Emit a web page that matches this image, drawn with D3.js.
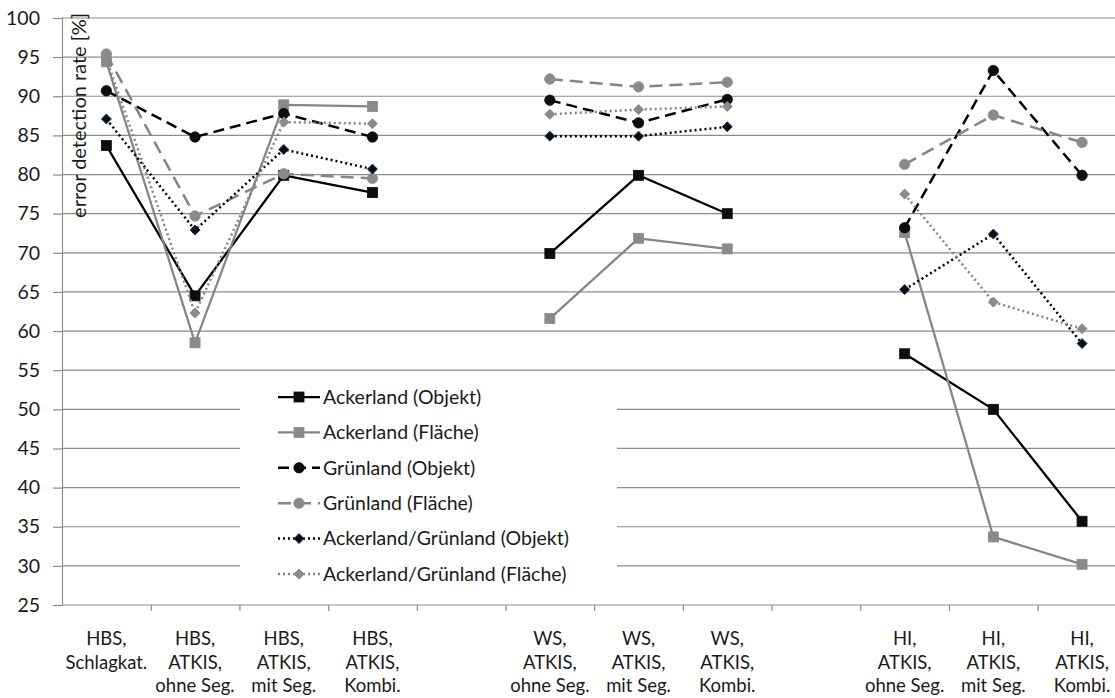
<!DOCTYPE html>
<html>
<head>
<meta charset="utf-8">
<script src="https://cdn.jsdelivr.net/npm/d3@7"></script>
<style>
  html, body { margin: 0; padding: 0; background: #fff; }
  svg { display: block; font-family: Lato, "Open Sans", sans-serif; }
</style>
</head>
<body>
<svg id="chart" width="1115" height="698"></svg>
<script>
// Category labels (one entry per slot; empty slots separate the groups)
const categories = [
  ["HBS,", "Schlagkat."],
  ["HBS,", "ATKIS,", "ohne Seg."],
  ["HBS,", "ATKIS,", "mit Seg."],
  ["HBS,", "ATKIS,", "Kombi."],
  [],
  ["WS,", "ATKIS,", "ohne Seg."],
  ["WS,", "ATKIS,", "mit Seg."],
  ["WS,", "ATKIS,", "Kombi."],
  [],
  ["HI,", "ATKIS,", "ohne Seg."],
  ["HI,", "ATKIS,", "mit Seg."],
  ["HI,", "ATKIS,", "Kombi."]
];

// Error detection rates in percent
const ackerObjekt  = [83.7, 64.5, 79.9, 77.7, null, 69.9, 79.9, 75.0, null, 57.1, 50.0, 35.7];
const ackerFlaeche = [94.4, 58.5, 88.9, 88.7, null, 61.6, 71.85, 70.5, null, 72.6, 33.7, 30.2];
const gruenObjekt  = [90.7, 84.8, 87.8, 84.8, null, 89.5, 86.6, 89.6, null, 73.2, 93.3, 79.9];
const gruenFlaeche = [95.4, 74.7, 80.1, 79.5, null, 92.2, 91.2, 91.8, null, 81.3, 87.6, 84.1];
const agObjekt     = [87.1, 72.9, 83.2, 80.7, null, 84.9, 84.9, 86.1, null, 65.3, 72.4, 58.4];
const agFlaeche    = [94.8, 62.3, 86.7, 86.5, null, 87.7, 88.3, 88.7, null, 77.5, 63.7, 60.3];

const seriesNames = [
  "Ackerland (Objekt)",
  "Ackerland (Fläche)",
  "Grünland (Objekt)",
  "Grünland (Fläche)",
  "Ackerland/Grünland (Objekt)",
  "Ackerland/Grünland (Fläche)"
];

const yTicks = d3.range(25, 101, 5);

const BLACK = "#000000";
const GRAY = "#858585";

const styles = [
  { values: ackerObjekt,  color: BLACK, width: 2.25, dash: null,   marker: "square",  fill: "#0d0d0d", stroke: "#0d0d0d" },
  { values: ackerFlaeche, color: GRAY,  width: 2.25, dash: null,   marker: "square",  fill: "#8a8a8a", stroke: "#8a8a8a" },
  { values: gruenObjekt,  color: BLACK, width: 2.5,  dash: "11,6", marker: "circle",  fill: "#0d0d0d", stroke: "#0d0d0d" },
  { values: gruenFlaeche, color: GRAY,  width: 2.5,  dash: "13,7", marker: "circle",  fill: "#8a8a8a", stroke: "#8a8a8a" },
  { values: agObjekt,     color: BLACK, width: 2.5,  dash: "2,3",  marker: "diamond", fill: "#0d0d0d", stroke: "#1f3b6e" },
  { values: agFlaeche,    color: GRAY,  width: 2.5,  dash: "2,3",  marker: "diamond", fill: "#8a8a8a", stroke: "#8a8a8a" }
];

const svg = d3.select("#chart");
const plotLeft = 62, plotTop = 18, plotBottom = 605;
const band = 88.7;
const plotRight = plotLeft + band * categories.length;

const x = d3.scaleBand().domain(d3.range(categories.length)).range([plotLeft, plotRight]).paddingInner(0).paddingOuter(0);
const xEdge = d3.scaleLinear().domain([0, categories.length]).range([plotLeft, plotRight]);
const y = d3.scaleLinear().domain([25, 100]).range([plotBottom, plotTop]);

// Horizontal gridlines
svg.append("g")
  .selectAll("line")
  .data(yTicks.filter(d => d > 25))
  .join("line")
  .attr("x1", plotLeft).attr("x2", 1115)
  .attr("y1", d => y(d)).attr("y2", d => y(d))
  .attr("stroke", "#8c8c8c").attr("stroke-width", 1.2);

// Y axis
const yAxis = svg.append("g")
  .attr("transform", `translate(${plotLeft},0)`)
  .call(d3.axisLeft(y).tickValues(yTicks).tickSize(9).tickPadding(13).tickFormat(d3.format("d")));
yAxis.select(".domain").attr("stroke", "#8c8c8c").attr("stroke-width", 1.2);
yAxis.selectAll(".tick line").attr("stroke", "#8c8c8c").attr("stroke-width", 1.2);
yAxis.selectAll(".tick text").attr("font-size", 19.5).attr("fill", "#1a1a1a").attr("font-family", "Lato, sans-serif");

// X axis with ticks on category boundaries
const xAxis = svg.append("g")
  .attr("transform", `translate(0,${plotBottom})`)
  .call(d3.axisBottom(xEdge).tickValues(d3.range(1, categories.length + 1)).tickSize(6).tickFormat(""));
xAxis.select(".domain").remove();
xAxis.selectAll(".tick line").attr("stroke", "#8c8c8c").attr("stroke-width", 1.2);
svg.append("line")
  .attr("x1", plotLeft).attr("x2", 1115).attr("y1", plotBottom).attr("y2", plotBottom)
  .attr("stroke", "#8c8c8c").attr("stroke-width", 1.2);

// Category labels
const catG = svg.append("g").attr("font-size", 18.5).attr("fill", "#1a1a1a").attr("text-anchor", "middle");
categories.forEach((lines, i) => {
  const cx = x(i) + x.bandwidth() / 2;
  const t = catG.append("text").attr("x", cx).attr("y", 645);
  lines.forEach((ln, j) => {
    t.append("tspan").attr("x", cx).attr("dy", j === 0 ? 0 : 23.5).text(ln);
  });
});

// Y axis title
svg.append("text")
  .attr("transform", "translate(86,13) rotate(-90)")
  .attr("text-anchor", "end")
  .attr("font-size", 20)
  .attr("fill", "#1a1a1a")
  .text("error detection rate [%]");

// Marker drawing helper
function drawMarker(g, type, cx, cy, fill, stroke) {
  if (type === "square") {
    g.append("rect").attr("x", cx - 5).attr("y", cy - 5).attr("width", 10).attr("height", 10)
      .attr("fill", fill).attr("stroke", stroke).attr("stroke-width", 0.8);
  } else if (type === "circle") {
    g.append("circle").attr("cx", cx).attr("cy", cy).attr("r", 5.2)
      .attr("fill", fill).attr("stroke", stroke).attr("stroke-width", 0.8);
  } else {
    const r = 5;
    g.append("path").attr("d", `M${cx},${cy - r}L${cx + r},${cy}L${cx},${cy + r}L${cx - r},${cy}Z`)
      .attr("fill", fill).attr("stroke", stroke).attr("stroke-width", 1);
  }
}

// Lines and markers
const line = d3.line()
  .defined(d => d.v !== null)
  .x(d => x(d.i) + x.bandwidth() / 2)
  .y(d => y(d.v));

const plot = svg.append("g");
styles.forEach(s => {
  const pts = s.values.map((v, i) => ({ i, v }));
  plot.append("path")
    .datum(pts)
    .attr("d", line)
    .attr("fill", "none")
    .attr("stroke", s.color)
    .attr("stroke-width", s.width)
    .attr("stroke-dasharray", s.dash)
    .attr("stroke-linejoin", "round");
  const mg = plot.append("g");
  pts.filter(p => p.v !== null).forEach(p => {
    drawMarker(mg, s.marker, x(p.i) + x.bandwidth() / 2, y(p.v), s.fill, s.stroke);
  });
});

// Legend
const legend = svg.append("g");
legend.append("rect").attr("x", 240).attr("y", 378).attr("width", 377).attr("height", 214).attr("fill", "#fff");
const rowY = d3.scaleLinear().domain([0, 5]).range([397, 574]);
styles.forEach((s, i) => {
  const ly = rowY(i);
  legend.append("line")
    .attr("x1", 278).attr("x2", 320).attr("y1", ly).attr("y2", ly)
    .attr("stroke", s.color).attr("stroke-width", s.width)
    .attr("stroke-dasharray", s.dash);
  drawMarker(legend, s.marker, 299, ly, s.fill, s.stroke);
  legend.append("text")
    .attr("x", 323).attr("y", ly).attr("dy", "0.35em")
    .attr("font-size", 19.5).attr("fill", "#1a1a1a")
    .text(seriesNames[i]);
});
</script>
</body>
</html>
